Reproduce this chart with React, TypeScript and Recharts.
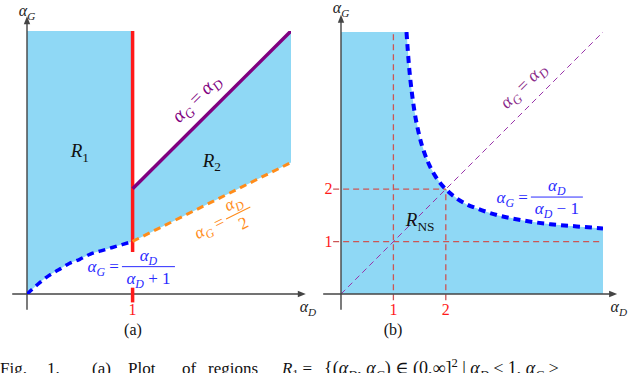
import React from "react";
import { Area, ComposedChart, Line, ReferenceDot, ReferenceLine, XAxis, YAxis } from "recharts";

const FONT = "'Liberation Serif', 'DejaVu Serif', serif";
const FILL = "#8fd8f5";
const AXIS = "#444";

// panel (a): alpha_G = alpha_D / (alpha_D + 1) on [0, 1]
const aCurveX = [0, 0.1, 0.2, 0.3, 0.4, 0.5, 0.6, 0.7, 0.8, 0.9, 1];
const aCurveY = [0, 0.09, 0.17, 0.23, 0.29, 0.33, 0.38, 0.41, 0.44, 0.47, 0.5];
const aTop = 2.5;
// wedge R2 between alpha_D/2 and alpha_D
const aWedgeX = [1, 2.5];
const aWedgeLow = [0.5, 1.25];
const aWedgeHigh = [1, 2.5];
const aSplit = 1;
const aSplitY = [0.4, 2.5];
const aTickY = [-0.08, 0.06];

// panel (b): alpha_G = alpha_D / (alpha_D - 1)
const bCurveX = [1.25, 1.3, 1.35, 1.4, 1.5, 1.6, 1.7, 1.8, 1.9, 2, 2.2, 2.4, 2.6, 2.8, 3, 3.5, 4, 4.5, 5];
const bCurveY = [5, 4.33, 3.86, 3.5, 3, 2.67, 2.43, 2.25, 2.11, 2, 1.83, 1.71, 1.63, 1.56, 1.5, 1.4, 1.33, 1.29, 1.25];
const bTop = 5;
const bRight = 5;
const bTicks = [1, 2];
const bGuideVertTop = [5, 2];
const bGuideHorizRight = [5, 2];

type Row = { x: number; [k: string]: any };

function merge(rows: Row[]): Row[] {
  const m = new Map<number, Row>();
  rows.forEach((r) => m.set(r.x, { ...(m.get(r.x) || {}), ...r }));
  return Array.from(m.values()).sort((p, q) => p.x - q.x);
}

const aData = merge([
  ...aCurveX.map((x, i) => ({ x, r1: [aCurveY[i], aTop], blue: aCurveY[i] })),
  ...aWedgeX.map((x, i) => ({ x, r2: [aWedgeLow[i], aWedgeHigh[i]], purple: aWedgeHigh[i], orange: aWedgeLow[i] })),
]);

const bData = merge([
  { x: 0, fill: bTop },
  ...bCurveX.map((x, i) => ({ x, fill: bCurveY[i], curve: bCurveY[i] })),
]);

type Part = { t: string; it?: boolean; sub?: boolean; sup?: boolean };
const aG: Part[] = [{ t: "α", it: true }, { t: "G", it: true, sub: true }];
const aD: Part[] = [{ t: "α", it: true }, { t: "D", it: true, sub: true }];

function MathText({ parts, x, y, size, color, anchor = "middle", rotate = 0 }: any) {
  let shift = 0;
  return (
    <text
      x={x}
      y={y}
      fontSize={size}
      fill={color}
      fontFamily={FONT}
      textAnchor={anchor}
      transform={rotate ? `rotate(${rotate} ${x} ${y})` : undefined}
    >
      {parts.map((p: Part, i: number) => {
        const target = p.sub ? size * 0.25 : p.sup ? -size * 0.4 : 0;
        const dy = target - shift;
        shift = target;
        return (
          <tspan key={i} dy={dy} fontStyle={p.it ? "italic" : "normal"} fontSize={p.sub || p.sup ? size * 0.7 : size}>
            {p.t}
          </tspan>
        );
      })}
    </text>
  );
}

function Frac({ cx, cy, lhs, num, den, size, color, barW, rotate = 0 }: any) {
  return (
    <g transform={`translate(${cx} ${cy}) rotate(${rotate})`}>
      <MathText parts={lhs} x={-barW / 2 - 3} y={size * 0.32} size={size} color={color} anchor="end" />
      <line x1={-barW / 2} x2={barW / 2} y1={0} y2={0} stroke={color} strokeWidth={1} />
      <MathText parts={num} x={0} y={-size * 0.35} size={size} color={color} />
      <MathText parts={den} x={0} y={size * 1.0} size={size} color={color} />
    </g>
  );
}

function arrowAxis(p: any) {
  const { x1, y1, x2, y2 } = p;
  const a = Math.atan2(y2 - y1, x2 - x1);
  const L = 8;
  const W = 3.2;
  const bx = x2 - L * Math.cos(a);
  const by = y2 - L * Math.sin(a);
  const pts = `${x2},${y2} ${bx - W * Math.sin(a)},${by + W * Math.cos(a)} ${bx + W * Math.sin(a)},${by - W * Math.cos(a)}`;
  return (
    <g>
      <line x1={x1} y1={y1} x2={bx + 2 * Math.cos(a)} y2={by + 2 * Math.sin(a)} stroke={AXIS} strokeWidth={1.4} />
      <polygon points={pts} fill={AXIS} />
    </g>
  );
}

const label = (el: (cx: number, cy: number) => React.ReactElement) => (p: any) => el(p.cx, p.cy);

function PanelA() {
  return (
    <ComposedChart width={320} height={373} data={aData} margin={{ top: 31, right: 29, bottom: 79, left: 27 }}>
      <XAxis dataKey="x" type="number" domain={[0, 2.5]} allowDataOverflow hide />
      <YAxis type="number" domain={[0, 2.5]} allowDataOverflow hide />
      <Area dataKey="r1" type="monotone" stroke="none" fill={FILL} fillOpacity={1} isAnimationActive={false} />
      <Area dataKey="r2" type="linear" stroke="none" fill={FILL} fillOpacity={1} isAnimationActive={false} />
      <ReferenceLine segment={[{ x: -0.14, y: 0 }, { x: 2.64, y: 0 }]} ifOverflow="visible" shape={arrowAxis} />
      <ReferenceLine segment={[{ x: 0, y: -0.15 }, { x: 0, y: 2.64 }]} ifOverflow="visible" shape={arrowAxis} />
      <ReferenceLine segment={[{ x: aSplit, y: aSplitY[0] }, { x: aSplit, y: aSplitY[1] }]} ifOverflow="visible" stroke="#ff1a1a" strokeWidth={3.5} />
      <ReferenceLine segment={[{ x: aSplit, y: aTickY[0] }, { x: aSplit, y: aTickY[1] }]} ifOverflow="visible" stroke="#ff1a1a" strokeWidth={3.5} />
      <Line dataKey="orange" type="linear" stroke="#ff8c1a" strokeWidth={3} strokeDasharray="7 5" dot={false} isAnimationActive={false} />
      <Line dataKey="purple" type="linear" stroke="#800080" strokeWidth={3.5} dot={false} isAnimationActive={false} />
      <Line dataKey="blue" type="monotone" stroke="#0000ff" strokeWidth={3.5} strokeDasharray="7 5" dot={false} isAnimationActive={false} />
      <ReferenceDot x={0} y={2.64} r={0} ifOverflow="visible" shape={label((cx, cy) => <MathText parts={aG} x={cx} y={cy} size={16} color="#222" />)} />
      <ReferenceDot x={2.66} y={-0.17} r={0} ifOverflow="visible" shape={label((cx, cy) => <MathText parts={aD} x={cx} y={cy} size={16} color="#222" />)} />
      <ReferenceDot x={1} y={-0.2} r={0} ifOverflow="visible" shape={label((cx, cy) => <MathText parts={[{ t: "1" }]} x={cx} y={cy} size={16} color="#ff1a1a" />)} />
      <ReferenceDot x={0.5} y={1.3} r={0} ifOverflow="visible" shape={label((cx, cy) => <MathText parts={[{ t: "R", it: true }, { t: "1", sub: true }]} x={cx} y={cy} size={19} color="#111" />)} />
      <ReferenceDot x={1.75} y={1.21} r={0} ifOverflow="visible" shape={label((cx, cy) => <MathText parts={[{ t: "R", it: true }, { t: "2", sub: true }]} x={cx} y={cy} size={19} color="#111" />)} />
      <ReferenceDot x={1.64} y={1.82} r={0} ifOverflow="visible" shape={label((cx, cy) => <MathText parts={[...aG, { t: " = " }, ...aD]} x={cx} y={cy} size={19} color="#800080" rotate={-45} />)} />
      <ReferenceDot x={2.0} y={0.77} r={0} ifOverflow="visible" shape={label((cx, cy) => <Frac cx={cx} cy={cy} lhs={[...aG, { t: " =" }]} num={aD} den={[{ t: "2" }]} size={17} color="#ff8c1a" barW={27} rotate={-26.6} />)} />
      <ReferenceDot x={1.15} y={0.26} r={0} ifOverflow="visible" shape={label((cx, cy) => <Frac cx={cx} cy={cy} lhs={[...aG, { t: " =" }]} num={aD} den={[...aD, { t: " + 1" }]} size={17} color="#2a2aff" barW={53} />)} />
    </ComposedChart>
  );
}

function PanelB() {
  return (
    <ComposedChart width={320} height={373} data={bData} margin={{ top: 32, right: 37, bottom: 79, left: 21 }}>
      <XAxis dataKey="x" type="number" domain={[0, bRight]} allowDataOverflow hide />
      <YAxis type="number" domain={[0, bTop]} allowDataOverflow hide />
      <Area dataKey="fill" type="linear" stroke="none" fill={FILL} fillOpacity={1} isAnimationActive={false} />
      {bTicks.map((t, i) => (
        <ReferenceLine key={"v" + t} segment={[{ x: t, y: -0.12 }, { x: t, y: bGuideVertTop[i] }]} ifOverflow="visible" stroke="#cc5555" strokeWidth={1.3} strokeDasharray="6 4" />
      ))}
      {bTicks.map((t, i) => (
        <ReferenceLine key={"h" + t} segment={[{ x: -0.15, y: t }, { x: bGuideHorizRight[i], y: t }]} ifOverflow="visible" stroke="#cc5555" strokeWidth={1.3} strokeDasharray="6 4" />
      ))}
      <ReferenceLine segment={[{ x: 0, y: 0 }, { x: bRight, y: bTop }]} ifOverflow="visible" stroke="#9933aa" strokeWidth={1} strokeDasharray="6 4" />
      <ReferenceLine segment={[{ x: -0.34, y: 0 }, { x: 5.27, y: 0 }]} ifOverflow="visible" shape={arrowAxis} />
      <ReferenceLine segment={[{ x: 0, y: -0.3 }, { x: 0, y: 5.33 }]} ifOverflow="visible" shape={arrowAxis} />
      <Line dataKey="curve" type="monotone" stroke="#0000ff" strokeWidth={4} strokeDasharray="7 5" dot={false} isAnimationActive={false} />
      <ReferenceDot x={0} y={5.36} r={0} ifOverflow="visible" shape={label((cx, cy) => <MathText parts={aG} x={cx} y={cy} size={16} color="#222" />)} />
      <ReferenceDot x={5.3} y={-0.34} r={0} ifOverflow="visible" shape={label((cx, cy) => <MathText parts={aD} x={cx} y={cy} size={16} color="#222" />)} />
      {bTicks.map((t) => (
        <ReferenceDot key={"tx" + t} x={t} y={-0.4} r={0} ifOverflow="visible" shape={label((cx, cy) => <MathText parts={[{ t: String(t) }]} x={cx} y={cy} size={16} color="#ff1a1a" />)} />
      ))}
      {bTicks.map((t) => (
        <ReferenceDot key={"ty" + t} x={-0.24} y={t - 0.1} r={0} ifOverflow="visible" shape={label((cx, cy) => <MathText parts={[{ t: String(t) }]} x={cx} y={cy} size={16} color="#ff1a1a" />)} />
      ))}
      <ReferenceDot x={3.55} y={3.9} r={0} ifOverflow="visible" shape={label((cx, cy) => <MathText parts={[...aG, { t: " = " }, ...aD]} x={cx} y={cy} size={18} color="#8a2a8a" rotate={-45} />)} />
      <ReferenceDot x={4.12} y={1.85} r={0} ifOverflow="visible" shape={label((cx, cy) => <Frac cx={cx} cy={cy} lhs={[...aG, { t: " =" }]} num={aD} den={[...aD, { t: " − 1" }]} size={17} color="#2a2aff" barW={52} />)} />
      <ReferenceDot x={1.51} y={1.3} r={0} ifOverflow="visible" shape={label((cx, cy) => <MathText parts={[{ t: "R", it: true }, { t: "NS", sub: true }]} x={cx} y={cy} size={19} color="#111" />)} />
    </ComposedChart>
  );
}

// caption words, placed like the justified line in the figure
const captionWords = ["Fig.", "1.", "(a)", "Plot", "of", "regions"];
const captionWordX = [0, 47, 92, 128, 182, 208];

export default function App() {
  return (
    <div style={{ position: "absolute", left: 0, top: 0, width: 640, height: 373, overflow: "hidden", background: "#fff" }}>
      <div style={{ position: "absolute", left: 0, top: 0 }}>
        <PanelA />
      </div>
      <div style={{ position: "absolute", left: 320, top: 0 }}>
        <PanelB />
      </div>
      <svg width={640} height={373} style={{ position: "absolute", left: 0, top: 0, pointerEvents: "none" }}>
        <g fontFamily={FONT} fontSize={17} fill="#111">
          <text x={133} y={335} textAnchor="middle" fontSize={16}>(a)</text>
          <text x={393} y={335} textAnchor="middle" fontSize={16}>(b)</text>
          {captionWords.map((w, i) => (
            <text key={w} x={captionWordX[i]} y={374}>{w}</text>
          ))}
          <MathText parts={[{ t: "R", it: true }, { t: "1", sub: true }, { t: " =" }]} x={282} y={374} size={17} color="#111" anchor="start" />
          <MathText
            parts={[
              { t: "{(" }, ...aD, { t: ", " }, ...aG, { t: ") ∈ (0,∞]" }, { t: "2", sup: true },
              { t: " | " }, ...aD, { t: " ≤ 1, " }, ...aG, { t: " ≥" },
            ]}
            x={324}
            y={374}
            size={18}
            color="#111"
            anchor="start"
          />
        </g>
      </svg>
    </div>
  );
}
